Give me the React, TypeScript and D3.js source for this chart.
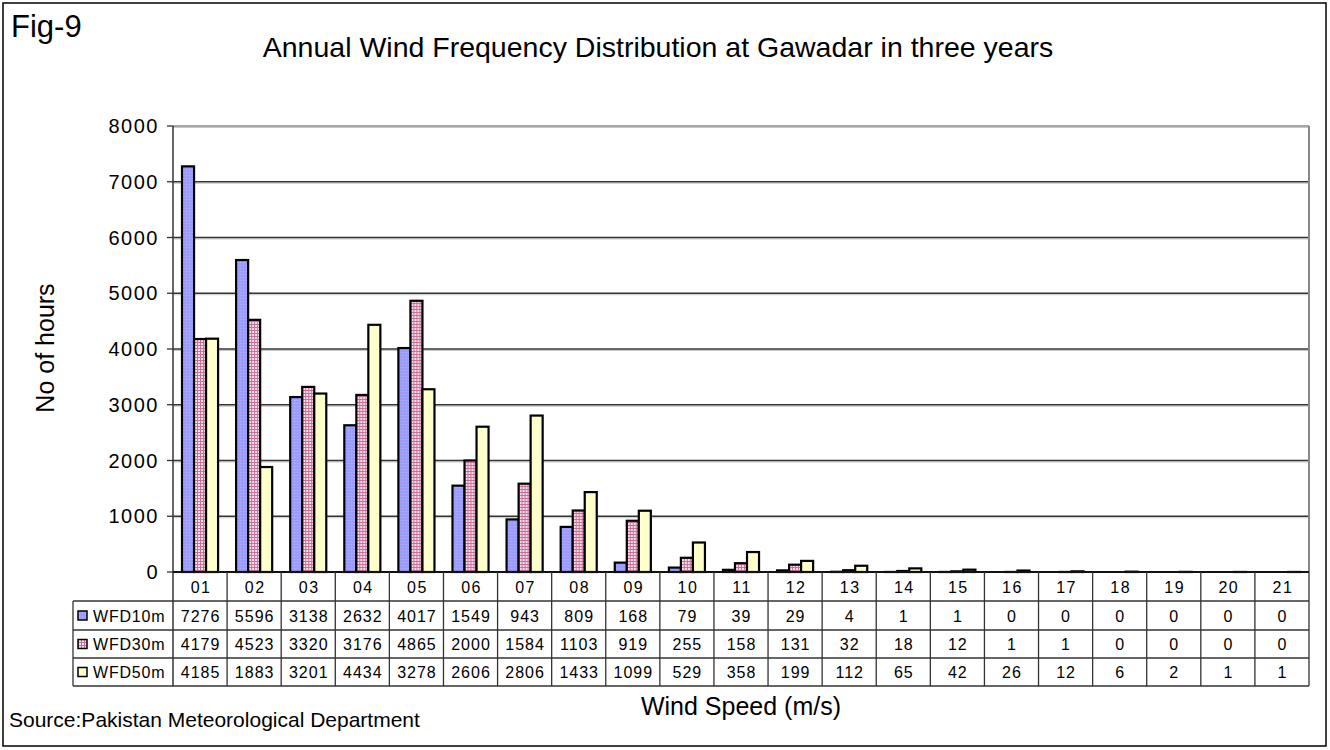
import React from "react";
import * as d3 from "d3";

const categories = ["01","02","03","04","05","06","07","08","09","10","11","12","13","14","15","16","17","18","19","20","21"];
const seriesNames = ["WFD10m", "WFD30m", "WFD50m"];
const wfd10m = [7276,5596,3138,2632,4017,1549,943,809,168,79,39,29,4,1,1,0,0,0,0,0,0];
const wfd30m = [4179,4523,3320,3176,4865,2000,1584,1103,919,255,158,131,32,18,12,1,1,0,0,0,0];
const wfd50m = [4185,1883,3201,4434,3278,2606,2806,1433,1099,529,358,199,112,65,42,26,12,6,2,1,1];
const yTicks = [0,1000,2000,3000,4000,5000,6000,7000,8000];

const seriesValues = [wfd10m, wfd30m, wfd50m];
const fills = ["url(#patBlue)", "url(#patPink)", "#FFFFCC"];

const W = 1330, H = 750;
const plotL = 173, plotR = 1309, plotT = 126, plotB = 572;
const tableL = 73;
const rowLines = [572, 601, 630, 658, 686];
const FONT = "'Liberation Sans', Arial, sans-serif";

export default function App() {
  const x = d3.scaleBand<string>().domain(categories).range([plotL, plotR]).paddingInner(0).paddingOuter(0);
  const bw = x.bandwidth();
  const barW = bw / 4.5;
  const xs = d3.scaleBand<number>().domain([0, 1, 2]).range([barW * 0.75, barW * 3.75]);
  const y = d3.scaleLinear().domain([0, 8000]).range([plotB, plotT]);

  return (
    <svg width={W} height={H} style={{ position: "absolute", left: 0, top: 0, background: "#fff" }} fontFamily={FONT}>
      <defs>
        <pattern id="patBlue" width="3" height="3" patternUnits="userSpaceOnUse">
          <rect width="3" height="3" fill="#9C9CFF" />
          <rect x="1" y="1" width="1" height="1" fill="#B8B8FF" />
        </pattern>
        <pattern id="patPink" width="3" height="3" patternUnits="userSpaceOnUse">
          <rect width="3" height="3" fill="#F4E0EA" />
          <rect x="0" y="0" width="3" height="1" fill="#C8709A" />
          <rect x="0" y="0" width="1" height="3" fill="#C8709A" />
        </pattern>
      </defs>
      <rect x={3} y={3} width={1323} height={743} fill="#fff" stroke="#000" strokeWidth={1.5} />
      <text x={11} y={37} fontSize={31}>Fig-9</text>
      <text x={658} y={57} fontSize={28.5} textAnchor="middle">Annual Wind Frequency Distribution at Gawadar in three years</text>

      {/* gridlines */}
      {yTicks.filter(t => t > 0).map(t => (
        <g key={"g" + t}>
          <line x1={plotL} x2={plotR} y1={y(t) + 1.5} y2={y(t) + 1.5} stroke="#c8c8c8" strokeWidth={1} />
          <line x1={plotL} x2={plotR} y1={y(t)} y2={y(t)} stroke={t === 8000 ? "#888" : "#333"} strokeWidth={1.3} />
        </g>
      ))}
      <line x1={plotR} x2={plotR} y1={plotT} y2={plotB} stroke="#888" strokeWidth={2} />

      {/* bars */}
      {categories.map((c, i) => (
        <g key={c} transform={`translate(${x(c)},0)`}>
          {seriesValues.map((vals, s) => vals[i] > 0 ? (
            <rect key={s} x={xs(s)} y={y(vals[i])} width={barW} height={plotB - y(vals[i])}
              fill={fills[s]} stroke="#000" strokeWidth={2.2} />
          ) : null)}
        </g>
      ))}

      {/* y axis */}
      <line x1={plotL} x2={plotL} y1={plotT} y2={rowLines[4]} stroke="#333" strokeWidth={1.5} />
      {yTicks.map(t => (
        <g key={"t" + t}>
          <line x1={plotL - 6} x2={plotL} y1={y(t)} y2={y(t)} stroke="#333" strokeWidth={1.3} />
          <text x={159} y={y(t) + 7} fontSize={20} textAnchor="end" letterSpacing={1.5}>{t}</text>
        </g>
      ))}
      <text transform={`translate(54,348) rotate(-90)`} fontSize={25} textAnchor="middle">No of hours</text>

      {/* data table */}
      <line x1={plotL} x2={plotR} y1={rowLines[0]} y2={rowLines[0]} stroke="#111" strokeWidth={1.8} />
      {rowLines.slice(1).map((ry, k) => (
        <line key={"r" + k} x1={tableL} x2={plotR} y1={ry} y2={ry} stroke="#333" strokeWidth={1.3} />
      ))}
      <line x1={tableL} x2={tableL} y1={rowLines[1]} y2={rowLines[4]} stroke="#333" strokeWidth={1.3} />
      {categories.map((c) => (
        <line key={"v" + c} x1={(x(c) as number) + bw} x2={(x(c) as number) + bw} y1={rowLines[0]} y2={rowLines[4]} stroke="#333" strokeWidth={1.3} />
      ))}
      {categories.map(c => (
        <text key={"c" + c} x={(x(c) as number) + bw / 2 + 1} y={(rowLines[0] + rowLines[1]) / 2 + 6} fontSize={16} textAnchor="middle" letterSpacing={1.5}>{c}</text>
      ))}
      {seriesValues.map((vals, s) => (
        <g key={"row" + s}>
          <rect x={78} y={(rowLines[s + 1] + rowLines[s + 2]) / 2 - 4.5} width={9} height={9} fill={fills[s]} stroke="#000" strokeWidth={1.5} />
          <text x={93} y={(rowLines[s + 1] + rowLines[s + 2]) / 2 + 6} fontSize={16} letterSpacing={0.8}>{seriesNames[s]}</text>
          {categories.map((c, i) => (
            <text key={c} x={(x(c) as number) + bw / 2 + 0.5} y={(rowLines[s + 1] + rowLines[s + 2]) / 2 + 6} fontSize={16} textAnchor="middle" letterSpacing={1}>{vals[i]}</text>
          ))}
        </g>
      ))}

      <text x={741} y={715} fontSize={25} textAnchor="middle">Wind Speed (m/s)</text>
      <text x={9} y={727} fontSize={21}>Source:Pakistan Meteorological Department</text>
    </svg>
  );
}
